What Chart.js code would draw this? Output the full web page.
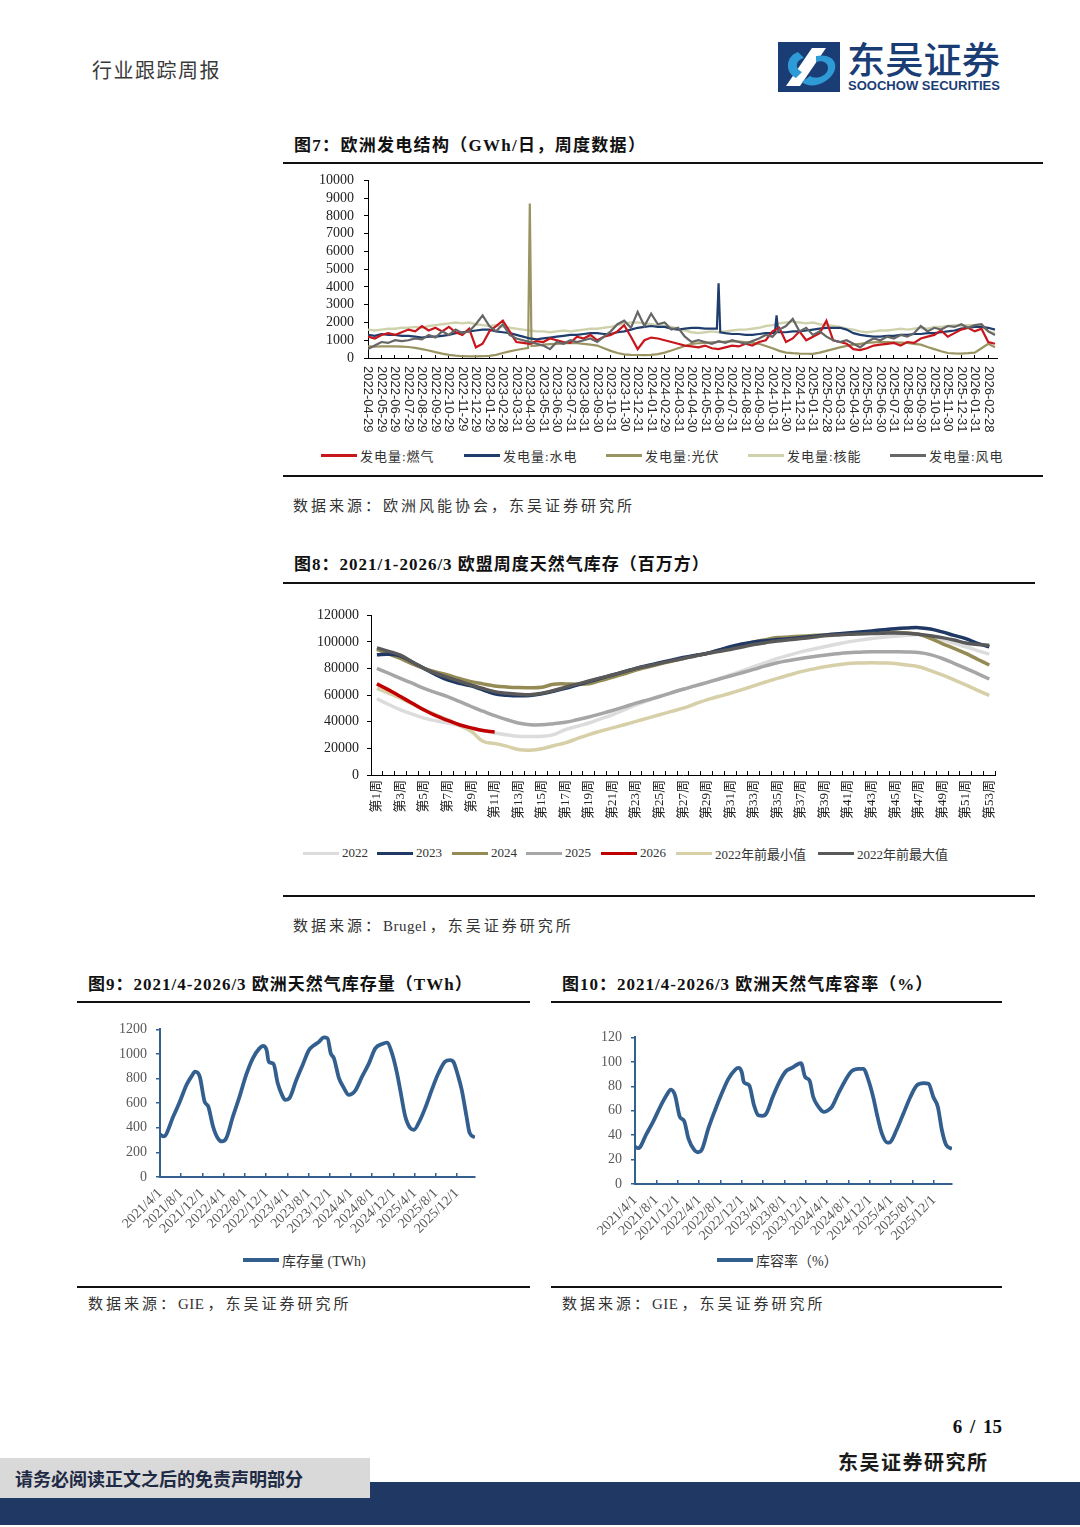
<!DOCTYPE html>
<html>
<head>
<meta charset="utf-8">
<script src="https://cdn.jsdelivr.net/npm/chart.js@4.4.1/dist/chart.umd.min.js"></script>
<style>
html,body{margin:0;padding:0;background:#fff;}
body{width:1080px;height:1527px;position:relative;overflow:hidden;font-family:"Liberation Serif","Noto Sans CJK SC",serif;color:#222;}
.t{position:absolute;white-space:nowrap;}
.title{font-weight:bold;font-size:17px;line-height:22px;letter-spacing:1px;color:#111;}
.rule{position:absolute;background:#111;}
.src{font-size:15px;line-height:20px;letter-spacing:3px;color:#333;}
.src b{font-weight:normal;letter-spacing:0.5px;margin-right:3px;}
.lg{position:absolute;height:18px;display:flex;align-items:center;white-space:nowrap;font-size:13px;color:#333;}
.lg i{display:inline-block;width:36px;height:3px;margin-right:3px;}
canvas{position:absolute;}
</style>
</head>
<body>

<!-- header -->
<div class="t" style="left:92px;top:58px;font-size:20px;line-height:24px;letter-spacing:1.5px;color:#3a3a3a;font-family:'Noto Sans CJK SC',sans-serif;font-weight:400;">行业跟踪周报</div>
<svg class="t" style="left:776px;top:38px" width="230" height="58" viewBox="0 0 230 58">
  <rect x="2" y="4" width="62" height="50" fill="#1b3d75"/>
  <path d="M10 48 L36 10 L50 10 L24 48 Z" fill="#ffffff"/>
  <path d="M40 18 C62 14 66 34 48 44 C40 49 30 48 26 44 L34 38 C40 42 52 38 52 30 C52 24 46 22 40 24 Z" fill="#2e9bd6"/>
  <path d="M22 14 C10 18 8 34 20 40 L26 34 C18 30 20 22 28 20 Z" fill="#2e9bd6"/>
  <text x="71" y="36" font-family="Noto Sans CJK SC" font-size="37" font-weight="500" fill="#1b3d75" textLength="153" lengthAdjust="spacingAndGlyphs">东吴证券</text>
  <text x="72" y="52" font-family="Liberation Sans Narrow, Liberation Sans, sans-serif" font-size="13" font-weight="bold" fill="#1b3d75" textLength="152" lengthAdjust="spacingAndGlyphs">SOOCHOW SECURITIES</text>
</svg>

<!-- Figure 7 -->
<div class="t title" style="left:294px;top:135px;letter-spacing:1.3px">图7：欧洲发电结构（GWh/日，周度数据）</div>
<div class="rule" style="left:283px;top:162px;width:760px;height:2px;"></div>
<canvas id="c7" width="710" height="273" style="left:300px;top:171px"></canvas>
<div class="lg" style="left:321px;top:446px;letter-spacing:1px"><i style="background:#c8161d"></i>发电量:燃气</div>
<div class="lg" style="left:464px;top:446px;letter-spacing:1px"><i style="background:#1f3e6e"></i>发电量:水电</div>
<div class="lg" style="left:606px;top:446px;letter-spacing:1px"><i style="background:#9a9462"></i>发电量:光伏</div>
<div class="lg" style="left:748px;top:446px;letter-spacing:1px"><i style="background:#cfd2ad"></i>发电量:核能</div>
<div class="lg" style="left:890px;top:446px;letter-spacing:1px"><i style="background:#666666"></i>发电量:风电</div>
<div class="rule" style="left:283px;top:475px;width:760px;height:2px;"></div>
<div class="t src" style="left:293px;top:496px;">数据来源：欧洲风能协会，东吴证券研究所</div>

<!-- Figure 8 -->
<div class="t title" style="left:294px;top:554px;">图8：2021/1-2026/3 欧盟周度天然气库存（百万方）</div>
<div class="rule" style="left:283px;top:582px;width:752px;height:2px;"></div>
<canvas id="c8" width="705" height="230" style="left:300px;top:605px"></canvas>
<div class="lg" style="left:303px;top:844px"><i style="background:#dcdcdc"></i>2022</div>
<div class="lg" style="left:377px;top:844px"><i style="background:#1f3864"></i>2023</div>
<div class="lg" style="left:452px;top:844px"><i style="background:#948a54"></i>2024</div>
<div class="lg" style="left:526px;top:844px"><i style="background:#a6a6a6"></i>2025</div>
<div class="lg" style="left:601px;top:844px"><i style="background:#c00000"></i>2026</div>
<div class="lg" style="left:676px;top:844px"><i style="background:#d7cfa8"></i>2022年前最小值</div>
<div class="lg" style="left:818px;top:844px"><i style="background:#595959"></i>2022年前最大值</div>
<div class="rule" style="left:283px;top:895px;width:752px;height:2px;"></div>
<div class="t src" style="left:293px;top:916px;">数据来源：<b>Brugel</b>，东吴证券研究所</div>

<!-- Figure 9 -->
<div class="t title" style="left:88px;top:974px;">图9：2021/4-2026/3 欧洲天然气库存量（TWh）</div>
<div class="rule" style="left:77px;top:1001px;width:453px;height:2px;"></div>
<canvas id="c9" width="405" height="227" style="left:80px;top:1015px"></canvas>
<div class="lg" style="left:243px;top:1251px;font-size:14px"><i style="background:#335f8e;height:4px"></i>库存量 (TWh)</div>
<div class="rule" style="left:77px;top:1286px;width:453px;height:2px;"></div>
<div class="t src" style="left:88px;top:1294px;">数据来源：<b>GIE</b>，东吴证券研究所</div>

<!-- Figure 10 -->
<div class="t title" style="left:562px;top:974px;">图10：2021/4-2026/3 欧洲天然气库容率（%）</div>
<div class="rule" style="left:551px;top:1001px;width:451px;height:2px;"></div>
<canvas id="c10" width="407" height="227" style="left:555px;top:1022px"></canvas>
<div class="lg" style="left:717px;top:1251px;font-size:14px"><i style="background:#335f8e;height:4px"></i>库容率（%）</div>
<div class="rule" style="left:551px;top:1286px;width:451px;height:2px;"></div>
<div class="t src" style="left:562px;top:1294px;">数据来源：<b>GIE</b>，东吴证券研究所</div>

<!-- footer -->
<div class="t" style="right:78px;top:1415px;font-size:19px;line-height:24px;font-weight:bold;word-spacing:3px;color:#111;">6 / 15</div>
<div class="t" style="left:838px;top:1450px;font-size:20px;line-height:24px;font-weight:bold;letter-spacing:1.5px;color:#1a1a1a;font-family:'Noto Sans CJK SC',sans-serif;">东吴证券研究所</div>
<div class="t" style="left:0;top:1482px;width:1080px;height:43px;background:#1f3864;"></div>
<div class="t" style="left:0;top:1458px;width:370px;height:40px;background:#d9d9d9;"></div>
<div class="t" style="left:15px;top:1466px;font-size:18px;line-height:24px;font-weight:bold;color:#1f2a44;font-family:'Noto Sans CJK SC',sans-serif;">请务必阅读正文之后的免责声明部分</div>

<script>
// ---------------- Figure 7 data (half-month steps from 2022-04-29) ----------------
const monthLabels = ['2022-04-29','2022-05-29','2022-06-29','2022-07-29','2022-08-29','2022-09-29','2022-10-29','2022-11-29','2022-12-29',
 '2023-01-29','2023-02-28','2023-03-31','2023-04-30','2023-05-31','2023-06-30','2023-07-31','2023-08-31','2023-09-30','2023-10-31','2023-11-30','2023-12-31',
 '2024-01-31','2024-02-29','2024-03-31','2024-04-30','2024-05-31','2024-06-30','2024-07-31','2024-08-31','2024-09-30','2024-10-31','2024-11-30','2024-12-31',
 '2025-01-31','2025-02-28','2025-03-31','2025-04-30','2025-05-31','2025-06-30','2025-07-31','2025-08-31','2025-09-30','2025-10-31','2025-11-30','2025-12-31',
 '2026-01-31','2026-02-28'];
const gasGen = [
 1200,1100,1300,1400,1300,1450,1600,1500,1800,1550,
 1700,1500,1750,1450,1300,1650,600,800,1500,1800,
 2100,1500,900,850,800,950,900,1100,1000,900,
 850,1200,1100,1300,1000,1200,1300,1500,1850,1200,
 500,1000,1150,1100,1000,900,800,700,650,600,
 700,550,500,600,700,650,800,700,900,1000,
 1500,1700,900,1100,1500,1000,1200,1400,2100,1000,
 900,800,500,450,550,700,750,800,850,700,
 900,850,1100,1200,1300,1550,1200,1400,1600,1700,
 1500,1650,900,800];
const hydroGen = [
 1300,1250,1350,1300,1300,1250,1250,1200,1150,1200,
 1200,1250,1300,1400,1450,1500,1550,1600,1600,1500,
 1450,1400,1300,1200,1100,1050,1100,1150,1200,1250,
 1300,1300,1350,1400,1400,1350,1350,1450,1500,1600,
 1700,1750,1800,1750,1750,1650,1600,1650,1700,1700,
 1650,1650,4200,1400,1350,1350,1300,1300,1350,1400,
 1400,1450,1450,1500,1500,1550,1600,1650,1700,1700,
 1700,1600,1400,1300,1250,1200,1200,1250,1250,1300,
 1300,1350,1350,1400,1400,1450,1500,1550,1650,1700,
 1750,1750,1700,1600];
const hydroSpikes = [[51.75,1650],[52.25,1450],[60.35,1420],[60.6,2400],[60.85,1450]];
const solarGen = [
 650,640,660,650,650,640,620,570,500,420,
 330,250,180,130,100,90,90,100,120,180,
 280,370,450,520,8700,700,750,780,800,820,
 850,830,800,750,700,550,400,280,200,180,
 170,160,180,220,300,420,550,680,800,830,
 850,880,900,920,950,930,900,850,800,680,
 550,400,300,270,250,240,230,300,400,500,
 600,680,750,800,850,880,900,890,880,870,
 850,800,750,620,500,380,280,260,250,270,
 300,550,800,600];
const solarSpikes = [[23.75,560],[24.25,680]];
const nuclearGen = [
 1600,1550,1600,1650,1650,1700,1700,1750,1700,1800,
 1850,1900,1950,2000,1950,2000,1900,1850,1800,1850,
 1750,1700,1650,1600,1550,1500,1500,1450,1500,1550,
 1500,1550,1600,1650,1650,1700,1750,1850,1950,2000,
 2000,1950,1900,1850,1800,1750,1650,1550,1450,1400,
 1450,1500,1450,1500,1550,1600,1600,1650,1700,1800,
 1850,1950,2000,2050,2000,1950,2000,1900,1850,1800,
 1750,1650,1600,1500,1450,1500,1550,1550,1600,1650,
 1600,1650,1700,1650,1750,1750,1800,1850,1800,1850,
 1850,1800,1500,1400];
const windGen = [
 500,700,900,850,1000,950,1000,1100,1050,1300,
 1150,1500,1300,1600,1400,1500,1900,2400,1800,1500,
 1900,1300,1100,1000,900,800,700,500,900,800,
 1000,900,1000,1100,900,1200,1500,1900,2100,1700,
 2600,1800,2500,1900,2000,1600,1700,1200,900,1000,
 900,800,950,850,1000,900,800,950,1100,1300,
 1200,1600,1800,2200,1500,1700,1300,1500,1200,1000,
 900,1000,800,600,900,1100,1000,1200,1100,1300,
 1200,1400,1800,1500,1700,1600,1800,1750,1900,1700,
 1850,1900,1500,1300];

// ---------------- Figure 8 data (weekly) ----------------
const weekLabels = ['第1周','第2周','第3周','第4周','第5周','第6周','第7周','第8周','第9周','第10周',
 '第11周','第12周','第13周','第14周','第15周','第16周','第17周','第18周','第19周','第20周',
 '第21周','第22周','第23周','第24周','第25周','第26周','第27周','第28周','第29周','第30周',
 '第31周','第32周','第33周','第34周','第35周','第36周','第37周','第38周','第39周','第40周',
 '第41周','第42周','第43周','第44周','第45周','第46周','第47周','第48周','第49周','第50周',
 '第51周','第52周','第53周'];
const stock2022 = [57300,53000,49000,45800,42800,40800,39100,37200,35400,33500,
 31600,30200,29100,29000,29100,30400,34100,36600,39100,42200,
 45300,49000,52800,56000,59000,61800,64500,67000,69500,72300,
 75200,78300,81400,84500,87600,90100,92600,94500,96400,98300,
 100100,101400,102600,103500,104300,105000,105600,104000,101800,99000,
 96400,93500,90900];
const stock2023 = [90500,90800,89500,85000,80200,75500,71500,69000,67000,64000,
 61000,60000,59500,59800,61000,63000,65200,67700,70200,72700,
 75200,77700,80200,82300,84400,86400,88400,89900,91400,93900,
 96400,98500,100100,101000,101800,102500,103300,104200,105100,106000,
 106800,107500,108300,109200,110000,110500,110800,109800,107600,105000,
 102600,99000,96400];
const stock2024 = [94400,91000,87600,83500,80200,77500,75200,72600,70200,68500,
 67000,66200,65700,65600,66000,68200,68500,68200,68500,71000,
 73400,76100,78900,81200,83400,85500,87600,89500,91400,93600,
 95900,98000,100100,101800,103300,103800,104300,104800,105300,105800,
 106300,106600,106800,107000,107300,106800,105800,102800,98800,95200,
 91400,87000,82700];
const stock2025 = [80200,76500,72700,69000,65200,62000,59000,55300,51500,48000,
 44600,41700,39100,37800,37800,38600,39600,41500,43600,46000,
 48500,51200,54000,56500,59000,61800,64500,67000,69500,72000,
 74400,76900,79400,82000,84400,86100,87600,88900,90100,91100,
 91900,92300,92600,92600,92600,92500,92100,90500,87600,84000,
 80200,76200,72200];
const stock2026 = [68500,64000,59000,54000,49000,44600,41100,37800,35400,33400,32400];
const stockMinPre2022 = [65200,61500,57800,53500,49000,45300,41600,37300,32900,25400,
 23700,21700,19200,18700,19700,22000,24200,27300,30400,33000,
 35400,37800,40300,42800,45300,47800,50300,53400,56500,59000,
 61500,64200,67000,69900,72700,75200,77700,79600,81400,82700,
 83900,84200,84400,84200,83900,82700,81400,78500,75200,71500,
 67700,63700,59800];
const stockMaxPre2022 = [95600,93000,90100,85000,80200,76500,73400,70500,67700,65000,
 62700,61500,60700,60300,61500,63500,66000,68300,70700,73000,
 75200,77700,80200,82000,83900,85800,87600,89500,91400,92900,
 94400,96300,98100,99500,100800,101700,102600,103600,104600,105200,
 105800,106100,106300,106600,106800,106500,105800,104700,103300,101500,
 99300,98200,97600];

// ---------------- Figures 9 & 10 data (months since 2021/4/1) ----------------
const storageTickLabels = ['2021/4/1','2021/8/1','2021/12/1','2022/4/1','2022/8/1','2022/12/1','2023/4/1','2023/8/1',
 '2023/12/1','2024/4/1','2024/8/1','2024/12/1','2025/4/1','2025/8/1','2025/12/1'];
const storageTickMonths = [0,4,8,12,16,20,24,28,32,36,40,44,48,52,56];
const storMonths = [0,0.7,2.5,3.75,5,6,6.6,7.5,8.4,9.1,10,10.9,11.7,12.5,13.75,15,16.25,17.5,18.75,19.4,
 20.1,20.5,21.4,22.2,23,23.6,24.4,25.6,26.9,28.1,29.1,30,30.9,31.6,32.2,32.8,33.75,34.7,35.6,36.1,
 36.9,38.1,39.4,40.6,41.9,42.8,43.75,44.7,45.3,46.25,47.2,47.9,48.75,50,51.25,52.5,53.75,54.7,55.3,56.25,
 56.9,57.8,58.4,59.4];
const storTWh = [345,330,492,614,749,822,857,816,614,573,411,316,289,316,492,654,830,965,1046,1065,
 1032,938,919,762,668,627,640,776,911,1032,1073,1100,1135,1127,1005,965,803,722,668,673,
 708,816,924,1046,1081,1092,1005,843,708,492,397,384,438,560,708,843,938,951,938,816,
 708,492,357,322];
const rateMonths = [0,0.6,2.2,3.4,4.7,5.9,6.7,7.5,8.4,9.2,10,11.1,11.75,12.5,13.75,15,16.25,17.5,18.75,19.4,
 20,20.4,21.4,22.3,23.1,23.9,24.6,25.8,27.2,28.3,29.4,30.4,31.1,31.9,32.7,33.4,34.4,35.4,35.9,36.9,
 38.1,39.4,40.6,41.9,42.8,43.75,44.7,45.3,46.25,47.3,47.8,49,50.3,51.6,52.8,54.1,55,55.9,56.75,57.5,
 58.3,59.4];
const ratePct = [30.6,29.3,41.4,51,63,72.6,77.2,72.6,55,51.7,37.4,27.9,26,27.9,45.5,60.4,74,86,93.5,95,
 91.6,83.4,80.7,64.5,56.3,55.8,57.7,71.2,84.8,92.4,95,97.8,98.9,87.5,84.8,71.2,63.1,59,59.6,63.1,
 74,84.8,92.4,94.3,94.3,84.8,69.9,57.7,41.4,33.9,34.2,44.2,57.7,71.2,80.7,82.6,82.1,71.2,63.1,44.2,
 32,28.7];

// ---------------- helpers ----------------
const SERIF = '"Liberation Serif","Noto Sans CJK SC",serif';
Chart.defaults.font.family = SERIF;
function halfMonthSeries(base, extra){
  const pts = base.map((v,i)=>({x:i, y:v}));
  (extra||[]).forEach(p=>pts.push({x:p[0], y:p[1]}));
  pts.sort((a,b)=>a.x-b.x);
  return pts;
}
function xySeries(xs, ys){ return xs.map((x,i)=>({x:x, y:ys[i]})); }
const plain = (v)=> String(v);
const baseOpts = {animation:false, responsive:false, maintainAspectRatio:false, devicePixelRatio:1,
  plugins:{legend:{display:false}, tooltip:{enabled:false}}, elements:{point:{radius:0}}};

// place a chart so that its plot area lands on the wanted page box
function fitArea(chart, L, T, R, B){
  const c = chart.canvas;
  let a = chart.chartArea;
  const w = Math.round(chart.width + (R-L) - (a.right-a.left));
  const h = Math.round(chart.height + (B-T) - (a.bottom-a.top));
  chart.resize(w, h);
  a = chart.chartArea;
  c.style.left = Math.round(L - a.left) + 'px';
  c.style.top = Math.round(T - a.top) + 'px';
}

// vertical (top-to-bottom) date labels for figure 7
const downLabels = {
  id:'downLabels',
  afterDraw(chart){
    const s = chart.scales.x, ctx = chart.ctx;
    ctx.save();
    ctx.font = '13px "Liberation Sans", sans-serif';
    ctx.fillStyle = '#2a2a2a';
    ctx.textAlign = 'left';
    ctx.textBaseline = 'middle';
    s.ticks.forEach((t,i)=>{
      const x = s.getPixelForValue(t.value);
      ctx.save();
      ctx.translate(x, s.top + 8);
      ctx.rotate(Math.PI/2);
      ctx.fillText(monthLabels[i], 0, 0);
      ctx.restore();
    });
    ctx.restore();
  }
};

// ---------------- Figure 7 ----------------
const ch7 = new Chart(document.getElementById('c7'), {
  type:'line',
  data:{datasets:[
    {label:'发电量:风电', data:halfMonthSeries(windGen), borderColor:'#666666', borderWidth:2.2, order:0},
    {label:'发电量:燃气', data:halfMonthSeries(gasGen), borderColor:'#c8161d', borderWidth:2.2, order:1},
    {label:'发电量:水电', data:halfMonthSeries(hydroGen, hydroSpikes), borderColor:'#1f3e6e', borderWidth:2.2, order:2},
    {label:'发电量:光伏', data:halfMonthSeries(solarGen, solarSpikes), borderColor:'#9a9462', borderWidth:2.2, order:3},
    {label:'发电量:核能', data:halfMonthSeries(nuclearGen), borderColor:'#cfd2ad', borderWidth:2.4, order:4}
  ]},
  options:Object.assign({}, baseOpts, {
    layout:{padding:{top:0, right:13, left:0, bottom:0}},
    elements:{point:{radius:0}, line:{tension:0}},
    scales:{
      x:{type:'linear', min:0, max:93.3,
        afterBuildTicks:(s)=>{ s.ticks = monthLabels.map((l,i)=>({value:i*2})); },
        ticks:{display:false},
        grid:{display:true, drawOnChartArea:false, drawTicks:true, tickLength:-3, color:'#000'},
        border:{display:true, color:'#000', width:1},
        afterFit:(s)=>{ s.height = 86; }
      },
      y:{min:0, max:10000,
        ticks:{stepSize:1000, autoSkip:false, callback:plain, font:{family:SERIF, size:14}, color:'#222', padding:10},
        grid:{drawOnChartArea:false, tickLength:4, color:'#000'},
        border:{display:true, color:'#000', width:1},
        afterFit:(s)=>{ s.width = 68; }
      }
    }
  }),
  plugins:[downLabels]
});
fitArea(ch7, 368, 180, 997, 358);

// ---------------- Figure 8 ----------------
const ch8 = new Chart(document.getElementById('c8'), {
  type:'line',
  data:{labels:weekLabels, datasets:[
    {label:'2026', data:stock2026, borderColor:'#c00000', borderWidth:3.5, order:0},
    {label:'2022年前最大值', data:stockMaxPre2022, borderColor:'#595959', borderWidth:3.5, order:1},
    {label:'2024', data:stock2024, borderColor:'#948a54', borderWidth:3.5, order:3},
    {label:'2023', data:stock2023, borderColor:'#1f3864', borderWidth:3.5, order:2},
    {label:'2025', data:stock2025, borderColor:'#a6a6a6', borderWidth:3.5, order:4},
    {label:'2022', data:stock2022, borderColor:'#dcdcdc', borderWidth:3.5, order:5},
    {label:'2022年前最小值', data:stockMinPre2022, borderColor:'#d7cfa8', borderWidth:3.5, order:6}
  ]},
  options:Object.assign({}, baseOpts, {
    layout:{padding:{top:0, right:10, left:0, bottom:0}},
    elements:{point:{radius:0}, line:{tension:0.4}},
    scales:{
      x:{type:'category', offset:true,
        grid:{display:true, offset:true, drawOnChartArea:false, drawTicks:true, tickLength:-4, color:'#000'},
        border:{display:true, color:'#000', width:1},
        ticks:{autoSkip:false, minRotation:90, maxRotation:90, padding:9, color:'#222',
          font:{family:SERIF, size:13},
          callback:(v,i)=> (i%2===0 ? weekLabels[i] : '')},
        afterFit:(s)=>{ s.height = 60; }
      },
      y:{min:0, max:120000,
        ticks:{stepSize:20000, autoSkip:false, callback:plain, font:{family:SERIF, size:14}, color:'#222', padding:8},
        grid:{drawOnChartArea:false, tickLength:4, color:'#000'},
        border:{display:true, color:'#000', width:1},
        afterFit:(s)=>{ s.width = 71; }
      }
    }
  })
});
fitArea(ch8, 371, 615, 995, 775);

// ---------------- Figures 9 & 10 ----------------
function storageChart(id, xs, ys, yMax, yStep){
  const axisColor = '#34608f';
  return new Chart(document.getElementById(id), {
    type:'line',
    data:{datasets:[{data:xySeries(xs, ys), borderColor:'#335f8e', borderWidth:3.8,
      cubicInterpolationMode:'monotone'}]},
    options:Object.assign({}, baseOpts, {
      layout:{padding:{top:0, right:10, left:0, bottom:0}},
      scales:{
        x:{type:'linear', min:0, max:59.4,
          afterBuildTicks:(s)=>{ s.ticks = storageTickMonths.map(m=>({value:m})); },
          ticks:{autoSkip:false, minRotation:45, maxRotation:45, padding:12, color:'#595959',
            font:{family:SERIF, size:14},
            callback:(v,i)=> storageTickLabels[i]},
          grid:{display:true, drawOnChartArea:false, drawTicks:true, tickLength:-4, color:axisColor, lineWidth:1.5},
          border:{display:true, color:axisColor, width:2},
          afterFit:(s)=>{ s.height = 65; }
        },
        y:{min:0, max:yMax,
          ticks:{stepSize:yStep, autoSkip:false, callback:plain, font:{family:SERIF, size:14}, color:'#595959', padding:9},
          grid:{drawOnChartArea:false, tickLength:4, color:axisColor, lineWidth:1.5},
          border:{display:true, color:axisColor, width:2},
          afterFit:(s)=>{ s.width = 80; }
        }
      }
    })
  });
}
const ch9 = storageChart('c9', storMonths, storTWh, 1200, 200);
fitArea(ch9, 160, 1029, 475, 1177);
const ch10 = storageChart('c10', rateMonths, ratePct, 120, 20);
fitArea(ch10, 635, 1037, 952, 1184);
</script>
</body>
</html>
